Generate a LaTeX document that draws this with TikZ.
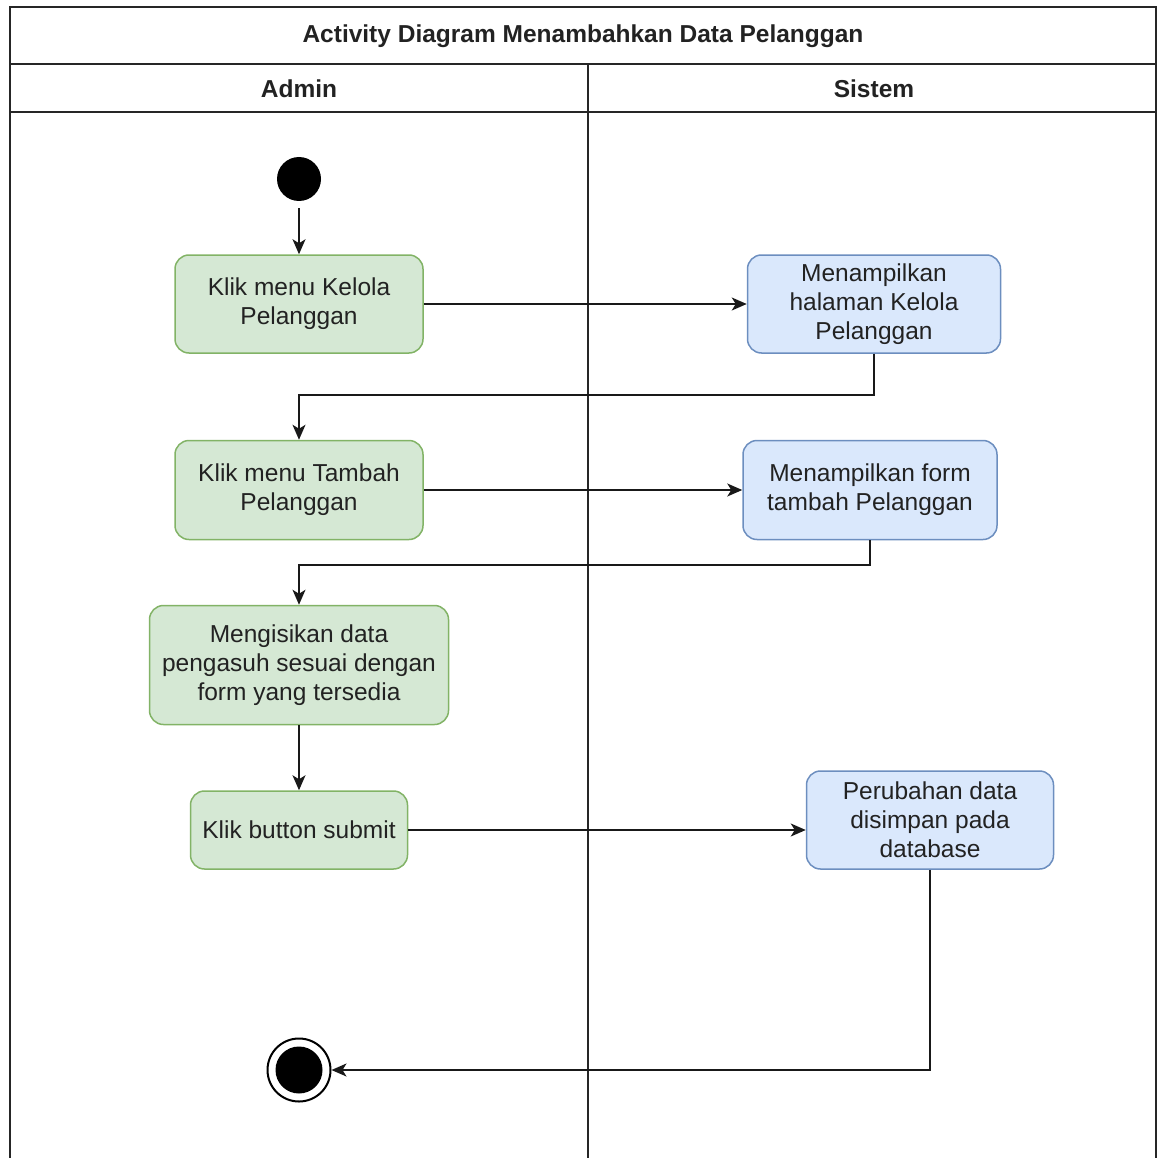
\documentclass[tikz,border=0pt]{standalone}
\usepackage{fontspec}
\setmainfont{Liberation Sans}
\usepackage{tikz}
\usetikzlibrary{
  arrows.meta,           % Stealth tips on the flows
  calc
}
\definecolor{actfill}{HTML}{D5E8D4}
\definecolor{actline}{HTML}{82B366}
\definecolor{sysfill}{HTML}{DAE8FC}
\definecolor{sysline}{HTML}{6C8EBF}
\definecolor{inktext}{HTML}{222222}

\begin{document}
\begin{tikzpicture}[x=1pt, y=-1pt,
    lane/.style={line width=2pt, draw=black!85},
    act/.style={draw=actline, fill=actfill, line width=1.5pt,
      rounded corners=14pt, align=center, text=inktext, inner sep=0pt},
    sys/.style={draw=sysline, fill=sysfill, line width=1.5pt,
      rounded corners=14pt, align=center, text=inktext, inner sep=0pt},
    flow/.style={line width=1.6pt, draw=black!90, -{Stealth[length=15pt,width=13pt,inset=4pt]}},
    head/.style={font=\fontsize{24.5}{29}\selectfont\bfseries, text=inktext},
    every node/.style={font=\fontsize{24.5}{29}\selectfont}
  ]
            \useasboundingbox (0,0) rectangle (1157,1158);
            \draw[lane] (10,1170) -- (10,7) -- (1156,7) -- (1156,1170);
            \draw[lane] (10,64) -- (1156,64);
            \draw[lane] (10,112) -- (1156,112);
            \draw[lane] (588,64) -- (588,1170);
            \node[head] (title) at (583,36) {Activity Diagram Menambahkan Data Pelanggan};
            \node[head] (admin) at (299,89) {Admin};
            \node[head] (sistem) at (874,89) {Sistem};

            \node[circle, fill=black, minimum size=44pt, inner sep=0pt] (start) at (299,179) {};
            \node[act, minimum width=248pt, minimum height=98pt] (klikkelola) at (299,304) {Klik menu Kelola\\Pelanggan};
            \node[sys, minimum width=253pt, minimum height=98pt] (tampilkelola) at (874,304) {Menampilkan\\halaman Kelola\\Pelanggan};
            \node[act, minimum width=248pt, minimum height=99pt] (kliktambah) at (299,490) {Klik menu Tambah\\Pelanggan};
            \node[sys, minimum width=254pt, minimum height=99pt] (tampilform) at (870,490) {Menampilkan form\\tambah Pelanggan};
            \node[act, minimum width=299pt, minimum height=119pt] (isidata) at (299,665) {Mengisikan data\\pengasuh sesuai dengan\\form yang tersedia};
            \node[act, minimum width=217pt, minimum height=78pt] (submit) at (299,830) {Klik button submit};
            \node[sys, minimum width=247pt, minimum height=98pt] (simpan) at (930,820) {Perubahan data\\disimpan pada\\database};
            \node[circle, draw=black, line width=2pt, fill=white, minimum size=63pt, inner sep=0pt] (end) at (299,1070) {};
            \fill (end.center) circle (23.5);

            \draw[flow] ([yshift=-7pt]start.south) -- (klikkelola);
            \draw[flow] (klikkelola) -- (tampilkelola);
            \draw[flow] (tampilkelola.south) -- ++(0,41) -| (kliktambah);
            \draw[flow] (kliktambah) -- (tampilform);
            \draw[flow] (tampilform.south) -- ++(0,25) -| (isidata);
            \draw[flow] (isidata) -- (submit);
            \draw[flow] (submit.east) -- (submit.east -| simpan.west);
            \draw[flow] (simpan.south) |- (end);
        \end{tikzpicture}
\end{document}
